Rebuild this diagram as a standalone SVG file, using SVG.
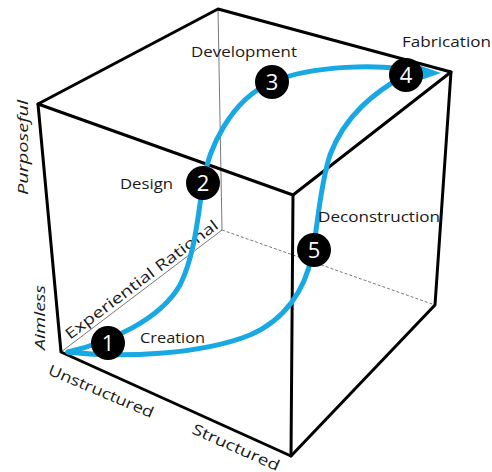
<svg xmlns="http://www.w3.org/2000/svg" width="492" height="472" viewBox="0 0 492 472">
  <style>
    .edge { stroke: #000; stroke-width: 3; fill: none; stroke-linejoin: round; stroke-linecap: round; }
    .hidden { stroke: #555; stroke-width: 0.8; fill: none; }
    .dash { stroke-dasharray: 3 2; }
    .flow { stroke: #18a8e4; stroke-width: 5; fill: none; stroke-linecap: round; }
    .lbl { font-family: "Open Sans", "DejaVu Sans", sans-serif; font-size: 15px; fill: #1a1a1a; }
    .axis { font-family: "Open Sans", "DejaVu Sans", sans-serif; font-size: 15px; fill: #1a1a1a; }
    .num { font-family: "Open Sans", "DejaVu Sans", sans-serif; font-size: 22px; fill: #fff; text-anchor: middle; }
  </style>
  <rect width="492" height="472" fill="#fff"/>

  <!-- cube -->
  <g id="cube">
    <line class="hidden" x1="218" y1="9" x2="222" y2="230"/>
    <line class="hidden" x1="61" y1="352" x2="222" y2="230"/>
    <line class="hidden dash" x1="222" y1="230" x2="435" y2="305"/>
    <polygon class="edge" points="218,9 451,72 293,195 38,104"/>
    <polyline class="edge" points="38,104 61,352 291,456 435,305 451,72"/>
    <line class="edge" x1="293" y1="195" x2="291" y2="456"/>
  </g>

  <!-- axis labels -->
  <g id="axes">
    <text class="axis" font-style="italic" transform="translate(28,195) rotate(-90)" textLength="95" lengthAdjust="spacingAndGlyphs">Purposeful</text>
    <text class="axis" font-style="italic" transform="translate(45,350) rotate(-90)" textLength="65" lengthAdjust="spacingAndGlyphs">Aimless</text>
    <text class="axis" transform="translate(70,340) rotate(-37)" textLength="187" lengthAdjust="spacingAndGlyphs">Experiential Rational</text>
    <text class="axis" transform="translate(47,374) rotate(23)" textLength="113" lengthAdjust="spacingAndGlyphs">Unstructured</text>
    <text class="axis" transform="translate(191,433) rotate(24)" textLength="94" lengthAdjust="spacingAndGlyphs">Structured</text>
  </g>

  <!-- connectors -->
  <g id="connectors">
    <path class="flow" d="M68,352 C110,342 160,320 180,285 C195,255 198,215 203,183 C208,150 230,100 272,82 C310,66 380,62 426,73"/>
    <path class="flow" d="M68,352 C120,358 200,355 250,335 C285,320 305,290 312,255 C318,225 320,185 330,155 C345,115 375,92 405,75"/>
    <polygon points="421,66 441,73 421,80" fill="#18a8e4"/>
  </g>

  <!-- stages -->
  <g id="n1">
    <circle cx="108" cy="343" r="17"/>
    <text class="num" x="108" y="351">1</text>
    <text class="lbl" x="140" y="343" textLength="65" lengthAdjust="spacingAndGlyphs">Creation</text>
  </g>
  <g id="n2">
    <circle cx="203" cy="183" r="17"/>
    <text class="num" x="203" y="191">2</text>
    <text class="lbl" x="120" y="189" textLength="53" lengthAdjust="spacingAndGlyphs">Design</text>
  </g>
  <g id="n3">
    <circle cx="272" cy="82" r="17"/>
    <text class="num" x="272" y="90">3</text>
    <text class="lbl" x="191" y="57" textLength="106" lengthAdjust="spacingAndGlyphs">Development</text>
  </g>
  <g id="n4">
    <circle cx="406" cy="75" r="17"/>
    <text class="num" x="406" y="83">4</text>
    <text class="lbl" x="402" y="47" textLength="89" lengthAdjust="spacingAndGlyphs">Fabrication</text>
  </g>
  <g id="n5">
    <circle cx="314" cy="250" r="17"/>
    <text class="num" x="314" y="258">5</text>
    <text class="lbl" x="318" y="222" textLength="122" lengthAdjust="spacingAndGlyphs">Deconstruction</text>
  </g>
</svg>
